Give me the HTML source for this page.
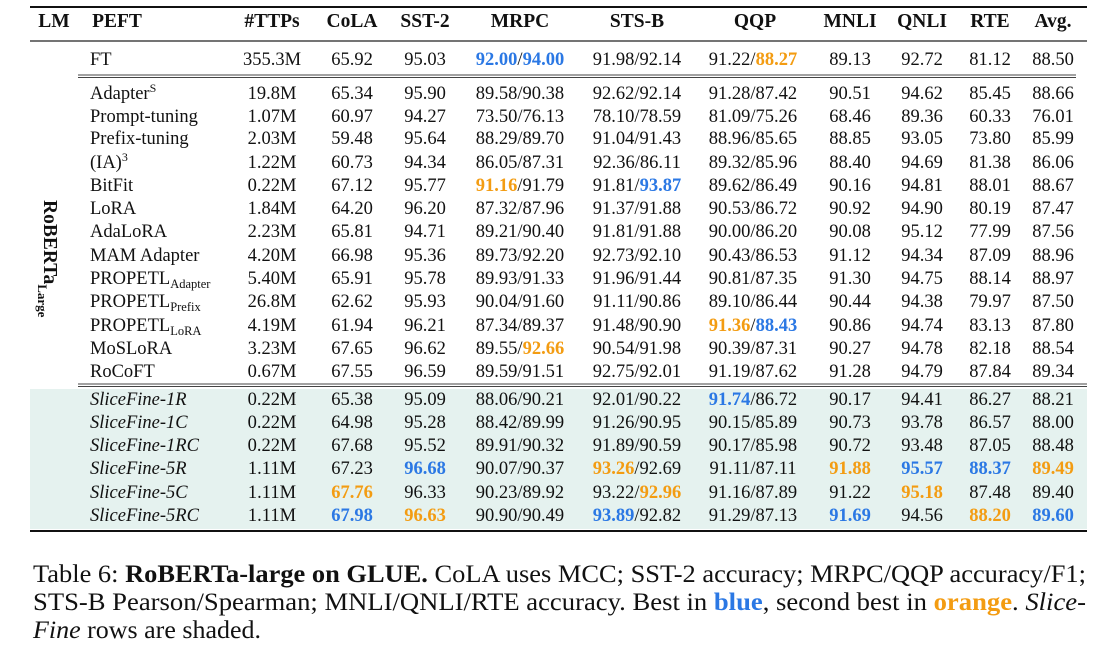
<!DOCTYPE html>
<html><head><meta charset="utf-8"><style>
html,body{margin:0;padding:0;background:#fff;}
svg{display:block;font-family:"Liberation Serif",serif;}
.b{fill:#2b78e4;font-weight:bold}.o{fill:#f39c12;font-weight:bold}
.h{font-weight:bold}
</style></head><body>
<svg width="1120" height="649" viewBox="0 0 1120 649" xmlns="http://www.w3.org/2000/svg" font-size="18.5" fill="#111" font-family="Liberation Serif, serif">
<rect x="30" y="389" width="1057" height="140" fill="#e5f2ef"/>
<line x1="30" y1="7" x2="1087" y2="7" stroke="#111" stroke-width="2"/>
<line x1="30" y1="41" x2="1087" y2="41" stroke="#222" stroke-width="1.2"/>
<line x1="78" y1="75" x2="1076" y2="75" stroke="#444" stroke-width="1"/>
<line x1="78" y1="77.5" x2="1076" y2="77.5" stroke="#444" stroke-width="1"/>
<line x1="78" y1="384" x2="1087" y2="384" stroke="#444" stroke-width="1"/>
<line x1="78" y1="386.5" x2="1087" y2="386.5" stroke="#444" stroke-width="1"/>
<line x1="30" y1="531" x2="1087" y2="531" stroke="#111" stroke-width="2"/>
<g class="h" text-anchor="middle" font-size="19.5">
<text x="54" y="27">LM</text><text x="117" y="27">PEFT</text><text x="272" y="27">#TTPs</text><text x="352" y="27">CoLA</text><text x="425" y="27">SST-2</text><text x="520" y="27">MRPC</text><text x="637" y="27">STS-B</text><text x="755" y="27">QQP</text><text x="850" y="27">MNLI</text><text x="922" y="27">QNLI</text><text x="990" y="27">RTE</text><text x="1053" y="27">Avg.</text>
</g>
<text transform="translate(44,200) rotate(90)" font-weight="bold" font-size="19.5" text-anchor="start" x="0" y="0">RoBERTa<tspan font-size="13" dy="6">Large</tspan></text>
<g text-anchor="middle">
<text y="65"><tspan x="272">355.3M</tspan><tspan x="352">65.92</tspan><tspan x="425">95.03</tspan><tspan x="850">89.13</tspan><tspan x="922">92.72</tspan><tspan x="990">81.12</tspan><tspan x="1053">88.50</tspan></text>
<text x="520" y="65"><tspan class="b">92.00</tspan>/<tspan class="b">94.00</tspan></text>
<text x="637" y="65">91.98/92.14</text>
<text x="753" y="65">91.22/<tspan class="o">88.27</tspan></text>
</g>
<text x="90" y="65">FT</text>
<g>
<g text-anchor="start">
<text x="90" y="99">Adapter<tspan font-size="12" dy="-7">S</tspan></text>
<text x="90" y="122">Prompt-tuning</text>
<text x="90" y="144">Prefix-tuning</text>
<text x="90" y="168">(IA)<tspan font-size="12" dy="-7">3</tspan></text>
<text x="90" y="191">BitFit</text>
<text x="90" y="214">LoRA</text>
<text x="90" y="237">AdaLoRA</text>
<text x="90" y="261">MAM Adapter</text>
<text x="90" y="284">PROPETL<tspan font-size="12.5" dy="4">Adapter</tspan></text>
<text x="90" y="307">PROPETL<tspan font-size="12.5" dy="4">Prefix</tspan></text>
<text x="90" y="331">PROPETL<tspan font-size="12.5" dy="4">LoRA</tspan></text>
<text x="90" y="354">MoSLoRA</text>
<text x="90" y="377">RoCoFT</text>
<g font-style="italic">
<text x="90" y="405">SliceFine-1R</text>
<text x="90" y="428">SliceFine-1C</text>
<text x="90" y="451">SliceFine-1RC</text>
<text x="90" y="474">SliceFine-5R</text>
<text x="90" y="498">SliceFine-5C</text>
<text x="90" y="521">SliceFine-5RC</text>
</g>
</g>
<g text-anchor="middle">
<text y="99"><tspan x="272">19.8M</tspan><tspan x="352">65.34</tspan><tspan x="425">95.90</tspan><tspan x="520">89.58/90.38</tspan><tspan x="637">92.62/92.14</tspan><tspan x="753">91.28/87.42</tspan><tspan x="850">90.51</tspan><tspan x="922">94.62</tspan><tspan x="990">85.45</tspan><tspan x="1053">88.66</tspan></text>
<text y="122"><tspan x="272">1.07M</tspan><tspan x="352">60.97</tspan><tspan x="425">94.27</tspan><tspan x="520">73.50/76.13</tspan><tspan x="637">78.10/78.59</tspan><tspan x="753">81.09/75.26</tspan><tspan x="850">68.46</tspan><tspan x="922">89.36</tspan><tspan x="990">60.33</tspan><tspan x="1053">76.01</tspan></text>
<text y="144"><tspan x="272">2.03M</tspan><tspan x="352">59.48</tspan><tspan x="425">95.64</tspan><tspan x="520">88.29/89.70</tspan><tspan x="637">91.04/91.43</tspan><tspan x="753">88.96/85.65</tspan><tspan x="850">88.85</tspan><tspan x="922">93.05</tspan><tspan x="990">73.80</tspan><tspan x="1053">85.99</tspan></text>
<text y="168"><tspan x="272">1.22M</tspan><tspan x="352">60.73</tspan><tspan x="425">94.34</tspan><tspan x="520">86.05/87.31</tspan><tspan x="637">92.36/86.11</tspan><tspan x="753">89.32/85.96</tspan><tspan x="850">88.40</tspan><tspan x="922">94.69</tspan><tspan x="990">81.38</tspan><tspan x="1053">86.06</tspan></text>
<text y="191"><tspan x="272">0.22M</tspan><tspan x="352">67.12</tspan><tspan x="425">95.77</tspan><tspan x="753">89.62/86.49</tspan><tspan x="850">90.16</tspan><tspan x="922">94.81</tspan><tspan x="990">88.01</tspan><tspan x="1053">88.67</tspan></text>
<text x="520" y="191"><tspan class="o">91.16</tspan>/91.79</text>
<text x="637" y="191">91.81/<tspan class="b">93.87</tspan></text>
<text y="214"><tspan x="272">1.84M</tspan><tspan x="352">64.20</tspan><tspan x="425">96.20</tspan><tspan x="520">87.32/87.96</tspan><tspan x="637">91.37/91.88</tspan><tspan x="753">90.53/86.72</tspan><tspan x="850">90.92</tspan><tspan x="922">94.90</tspan><tspan x="990">80.19</tspan><tspan x="1053">87.47</tspan></text>
<text y="237"><tspan x="272">2.23M</tspan><tspan x="352">65.81</tspan><tspan x="425">94.71</tspan><tspan x="520">89.21/90.40</tspan><tspan x="637">91.81/91.88</tspan><tspan x="753">90.00/86.20</tspan><tspan x="850">90.08</tspan><tspan x="922">95.12</tspan><tspan x="990">77.99</tspan><tspan x="1053">87.56</tspan></text>
<text y="261"><tspan x="272">4.20M</tspan><tspan x="352">66.98</tspan><tspan x="425">95.36</tspan><tspan x="520">89.73/92.20</tspan><tspan x="637">92.73/92.10</tspan><tspan x="753">90.43/86.53</tspan><tspan x="850">91.12</tspan><tspan x="922">94.34</tspan><tspan x="990">87.09</tspan><tspan x="1053">88.96</tspan></text>
<text y="284"><tspan x="272">5.40M</tspan><tspan x="352">65.91</tspan><tspan x="425">95.78</tspan><tspan x="520">89.93/91.33</tspan><tspan x="637">91.96/91.44</tspan><tspan x="753">90.81/87.35</tspan><tspan x="850">91.30</tspan><tspan x="922">94.75</tspan><tspan x="990">88.14</tspan><tspan x="1053">88.97</tspan></text>
<text y="307"><tspan x="272">26.8M</tspan><tspan x="352">62.62</tspan><tspan x="425">95.93</tspan><tspan x="520">90.04/91.60</tspan><tspan x="637">91.11/90.86</tspan><tspan x="753">89.10/86.44</tspan><tspan x="850">90.44</tspan><tspan x="922">94.38</tspan><tspan x="990">79.97</tspan><tspan x="1053">87.50</tspan></text>
<text y="331"><tspan x="272">4.19M</tspan><tspan x="352">61.94</tspan><tspan x="425">96.21</tspan><tspan x="520">87.34/89.37</tspan><tspan x="637">91.48/90.90</tspan><tspan x="850">90.86</tspan><tspan x="922">94.74</tspan><tspan x="990">83.13</tspan><tspan x="1053">87.80</tspan></text>
<text x="753" y="331"><tspan class="o">91.36</tspan>/<tspan class="b">88.43</tspan></text>
<text y="354"><tspan x="272">3.23M</tspan><tspan x="352">67.65</tspan><tspan x="425">96.62</tspan><tspan x="637">90.54/91.98</tspan><tspan x="753">90.39/87.31</tspan><tspan x="850">90.27</tspan><tspan x="922">94.78</tspan><tspan x="990">82.18</tspan><tspan x="1053">88.54</tspan></text>
<text x="520" y="354">89.55/<tspan class="o">92.66</tspan></text>
<text y="377"><tspan x="272">0.67M</tspan><tspan x="352">67.55</tspan><tspan x="425">96.59</tspan><tspan x="520">89.59/91.51</tspan><tspan x="637">92.75/92.01</tspan><tspan x="753">91.19/87.62</tspan><tspan x="850">91.28</tspan><tspan x="922">94.79</tspan><tspan x="990">87.84</tspan><tspan x="1053">89.34</tspan></text>

<text y="405"><tspan x="272">0.22M</tspan><tspan x="352">65.38</tspan><tspan x="425">95.09</tspan><tspan x="520">88.06/90.21</tspan><tspan x="637">92.01/90.22</tspan><tspan x="850">90.17</tspan><tspan x="922">94.41</tspan><tspan x="990">86.27</tspan><tspan x="1053">88.21</tspan></text>
<text x="753" y="405"><tspan class="b">91.74</tspan>/86.72</text>
<text y="428"><tspan x="272">0.22M</tspan><tspan x="352">64.98</tspan><tspan x="425">95.28</tspan><tspan x="520">88.42/89.99</tspan><tspan x="637">91.26/90.95</tspan><tspan x="753">90.15/85.89</tspan><tspan x="850">90.73</tspan><tspan x="922">93.78</tspan><tspan x="990">86.57</tspan><tspan x="1053">88.00</tspan></text>
<text y="451"><tspan x="272">0.22M</tspan><tspan x="352">67.68</tspan><tspan x="425">95.52</tspan><tspan x="520">89.91/90.32</tspan><tspan x="637">91.89/90.59</tspan><tspan x="753">90.17/85.98</tspan><tspan x="850">90.72</tspan><tspan x="922">93.48</tspan><tspan x="990">87.05</tspan><tspan x="1053">88.48</tspan></text>
<text y="474"><tspan x="272">1.11M</tspan><tspan x="352">67.23</tspan><tspan x="425" class="b">96.68</tspan><tspan x="520">90.07/90.37</tspan><tspan x="753">91.11/87.11</tspan><tspan x="850" class="o">91.88</tspan><tspan x="922" class="b">95.57</tspan><tspan x="990" class="b">88.37</tspan><tspan x="1053" class="o">89.49</tspan></text>
<text x="637" y="474"><tspan class="o">93.26</tspan>/92.69</text>
<text y="498"><tspan x="272">1.11M</tspan><tspan x="352" class="o">67.76</tspan><tspan x="425">96.33</tspan><tspan x="520">90.23/89.92</tspan><tspan x="753">91.16/87.89</tspan><tspan x="850">91.22</tspan><tspan x="922" class="o">95.18</tspan><tspan x="990">87.48</tspan><tspan x="1053">89.40</tspan></text>
<text x="637" y="498">93.22/<tspan class="o">92.96</tspan></text>
<text y="521"><tspan x="272">1.11M</tspan><tspan x="352" class="b">67.98</tspan><tspan x="425" class="o">96.63</tspan><tspan x="520">90.90/90.49</tspan><tspan x="753">91.29/87.13</tspan><tspan x="850" class="b">91.69</tspan><tspan x="922">94.56</tspan><tspan x="990" class="o">88.20</tspan><tspan x="1053" class="b">89.60</tspan></text>
<text x="637" y="521"><tspan class="b">93.89</tspan>/92.82</text>
</g>
</g>
<g font-size="25">
<text x="33" y="582" textLength="1053" lengthAdjust="spacingAndGlyphs">Table 6: <tspan font-weight="bold">RoBERTa-large on GLUE.</tspan> CoLA uses MCC; SST-2 accuracy; MRPC/QQP accuracy/F1;</text>
<text x="33" y="610" textLength="1053" lengthAdjust="spacingAndGlyphs">STS-B Pearson/Spearman; MNLI/QNLI/RTE accuracy. Best in <tspan class="b">blue</tspan>, second best in <tspan class="o">orange</tspan>. <tspan font-style="italic">Slice-</tspan></text>
<text x="33" y="638" textLength="228" lengthAdjust="spacingAndGlyphs"><tspan font-style="italic">Fine</tspan> rows are shaded.</text>
</g>
</svg>
</body></html>
